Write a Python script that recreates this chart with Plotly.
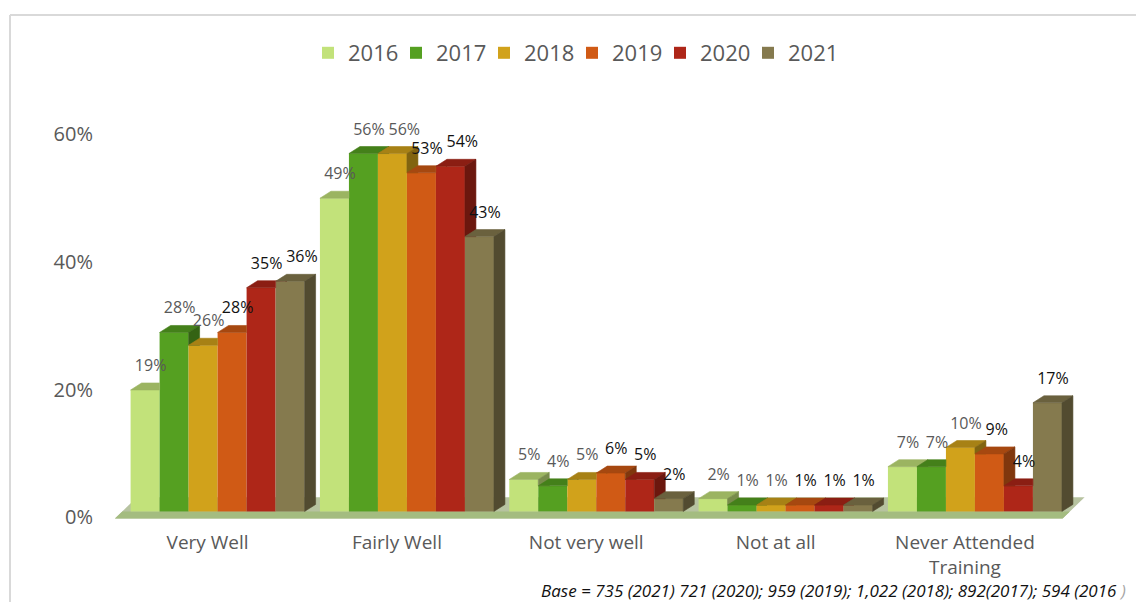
import plotly.graph_objects as go

# ---- data ---------------------------------------------------------------
categories = ["Very Well", "Fairly Well", "Not very well", "Not at all",
              "Never Attended Training"]
category_labels = ["Very Well", "Fairly Well", "Not very well", "Not at all",
                   "Never Attended<br>Training"]
years = ["2016", "2017", "2018", "2019", "2020", "2021"]

values_2016 = [19, 49, 5, 2, 7]
values_2017 = [28, 56, 4, 1, 7]
values_2018 = [26, 56, 5, 1, 10]
values_2019 = [28, 53, 6, 1, 9]
values_2020 = [35, 54, 5, 1, 4]
values_2021 = [36, 43, 2, 1, 17]

y_ticks = [0, 20, 40, 60]
base_note = "Base = 735 (2021) 721 (2020); 959 (2019); 1,022 (2018); 892(2017); 594 (2016 "

series_values = [values_2016, values_2017, values_2018,
                 values_2019, values_2020, values_2021]

# ---- styling ------------------------------------------------------------
FONT = "Open Sans"
AXIS_GREY = "#595959"
bar_colors = ["#c2e27a", "#55a021", "#d1a21b", "#d05a15", "#ae2618", "#857a4e"]
label_colors = ["#595959", "#595959", "#595959", "#111111", "#111111", "#111111"]
TOP_SHADE = 0.80
SIDE_SHADE = 0.62
LABEL_SIZE = 16

W, H = 1136, 602
M_L, M_R, M_T, M_B = 104, 38, 96, 81
X_RANGE = [-0.6, 4.65]
Y_RANGE = [-1.5, 65]
PLOT_W = W - M_L - M_R
PLOT_H = H - M_T - M_B
PX_PER_X = PLOT_W / (X_RANGE[1] - X_RANGE[0])
PX_PER_Y = PLOT_H / (Y_RANGE[1] - Y_RANGE[0])

GROUP_WIDTH = 0.919
BAR_W = GROUP_WIDTH / len(years)
DEPTH_X = 11 / PX_PER_X      # pseudo-3D depth, horizontal part
DEPTH_Y = 7 / PX_PER_Y       # pseudo-3D depth, vertical part
LABEL_DY = 16 / PX_PER_Y


def shade(hex_color, f):
    h = hex_color.lstrip("#")
    r, g, b = (int(h[i:i + 2], 16) for i in (0, 2, 4))
    return "#{:02x}{:02x}{:02x}".format(int(r * f), int(g * f), int(b * f))


def clip_above(poly, c):
    """Keep the part of a convex polygon with y >= c."""
    out = []
    n = len(poly)
    for i in range(n):
        x1, y1 = poly[i]
        x2, y2 = poly[(i + 1) % n]
        in1, in2 = y1 >= c, y2 >= c
        if in1:
            out.append((x1, y1))
        if in1 != in2:
            t = (c - y1) / (y2 - y1)
            out.append((x1 + t * (x2 - x1), c))
    return out


def paper_x(px):
    return (px - M_L) / PLOT_W


def paper_y(py):
    return (H - M_B - py) / PLOT_H


fig = go.Figure()

# front faces of the bars
offsets = [-GROUP_WIDTH / 2 + k * BAR_W for k in range(len(years))]
for k, (year, vals) in enumerate(zip(years, series_values)):
    fig.add_trace(go.Bar(
        x=list(range(len(categories))), y=vals, name=year,
        width=BAR_W, offset=offsets[k],
        marker=dict(color=bar_colors[k], line=dict(width=0)),
        hovertext=categories, hoverinfo="text+y",
    ))

# top and side faces, drawn bar by bar so neighbours hide each other correctly
for j in range(len(categories)):
    for k, vals in enumerate(series_values):
        h = vals[j]
        xl = j + offsets[k]
        xr = xl + BAR_W
        hn = series_values[k + 1][j] if k + 1 < len(years) else 0

        # top face, minus the part hidden behind the next bar's front
        if hn <= h:
            top = [(xl, h), (xr, h), (xr + DEPTH_X, h + DEPTH_Y), (xl + DEPTH_X, h + DEPTH_Y)]
        elif hn >= h + DEPTH_Y:
            top = [(xl, h), (xr, h), (xr, h + DEPTH_Y), (xl + DEPTH_X, h + DEPTH_Y)]
        else:
            xc = xr + DEPTH_X * (hn - h) / DEPTH_Y
            top = [(xl, h), (xr, h), (xr, hn), (xc, hn),
                   (xr + DEPTH_X, h + DEPTH_Y), (xl + DEPTH_X, h + DEPTH_Y)]

        side = [(xr, 0), (xr + DEPTH_X, DEPTH_Y), (xr + DEPTH_X, h + DEPTH_Y), (xr, h)]
        if hn > 0:
            side = clip_above(side, hn)

        for poly, f in ((top, TOP_SHADE), (side, SIDE_SHADE)):
            if len(poly) < 3:
                continue
            xs = [p[0] for p in poly] + [poly[0][0]]
            ys = [p[1] for p in poly] + [poly[0][1]]
            c = shade(bar_colors[k], f)
            fig.add_trace(go.Scatter(
                x=xs, y=ys, mode="lines", fill="toself", fillcolor=c,
                line=dict(color=c, width=0.6), hoverinfo="skip", showlegend=False,
            ))

# value labels: centred over each bar's top, nudged right when they would
# run into the previous label of the same group
label_x = [[0.0] * len(categories) for _ in years]
for j in range(len(categories)):
    prev_right, prev_y = None, None
    for k, vals in enumerate(series_values):
        v = vals[j]
        cx = (j + offsets[k] + BAR_W / 2 + DEPTH_X / 2) * PX_PER_X
        cy = v * PX_PER_Y
        half = 0.5 * LABEL_SIZE * (0.57 * len(str(v)) + 0.82)
        if prev_right is not None and abs(cy - prev_y) < 12 and cx - half < prev_right + 4:
            cx = prev_right + 4 + half
        label_x[k][j] = cx / PX_PER_X
        prev_right, prev_y = cx + half, cy

for k, vals in enumerate(series_values):
    fig.add_trace(go.Scatter(
        x=label_x[k],
        y=[v + DEPTH_Y + LABEL_DY for v in vals],
        mode="text", text=[f"{v}%" for v in vals], textposition="middle center",
        textfont=dict(family=FONT, size=LABEL_SIZE, color=label_colors[k]),
        hoverinfo="skip", showlegend=False,
    ))

# floor slab under the bars
fl_left = -0.5 - 8 / PX_PER_X
fl_right = len(categories) - 0.5 - 7 / PX_PER_X
fl_front = -1.1
fl_back = 2.2
fl_shear = 22 / PX_PER_X / (fl_back - fl_front)   # x shift per unit of y


def floor_path(y0, y1):
    pts = [(fl_left + (y0 - fl_front) * fl_shear, y0),
           (fl_right + (y0 - fl_front) * fl_shear, y0),
           (fl_right + (y1 - fl_front) * fl_shear, y1),
           (fl_left + (y1 - fl_front) * fl_shear, y1)]
    return "M " + " L ".join(f"{x},{y}" for x, y in pts) + " Z"


fig.add_shape(type="path", xref="x", yref="y", layer="below",
              path=floor_path(fl_front, fl_back), fillcolor="#b7c3a0", line_width=0)
fig.add_shape(type="path", xref="x", yref="y", layer="below",
              path=floor_path(fl_front, 0), fillcolor="#a4bc80", line_width=0)

# outer frame (left and top edges)
frame = dict(color="#d9d9d9", width=2)
fig.add_shape(type="line", xref="paper", yref="paper",
              x0=paper_x(10), x1=paper_x(10), y0=paper_y(15), y1=paper_y(H + 5), line=frame)
fig.add_shape(type="line", xref="paper", yref="paper",
              x0=paper_x(10), x1=paper_x(W + 5), y0=paper_y(15), y1=paper_y(15), line=frame)

fig.add_annotation(
    xref="paper", yref="paper", x=paper_x(1128), y=paper_y(590),
    xanchor="right", yanchor="middle", showarrow=False,
    text=f"<i>{base_note}<span style='color:#a6a6a6'>)</span></i>",
    font=dict(family=FONT, size=17, color="#111111"),
)

fig.update_layout(
    width=W, height=H,
    margin=dict(l=M_L, r=M_R, t=M_T, b=M_B),
    paper_bgcolor="white", plot_bgcolor="white",
    barmode="overlay",
    font=dict(family=FONT, color=AXIS_GREY),
    showlegend=True,
    legend=dict(orientation="h", x=paper_x(308), xanchor="left",
                y=paper_y(53), yanchor="middle",
                entrywidth=43, entrywidthmode="pixels",
                font=dict(family=FONT, size=22, color=AXIS_GREY),
                traceorder="normal"),
    xaxis=dict(range=X_RANGE, tickmode="array", tickvals=list(range(len(categories))),
               ticktext=category_labels, showgrid=False, zeroline=False, showline=False,
               ticks="", tickfont=dict(family=FONT, size=19, color=AXIS_GREY),
               ticklabelshift=-10, ticklabelstandoff=8, fixedrange=True),
    yaxis=dict(range=Y_RANGE, tickmode="array", tickvals=y_ticks,
               ticktext=[f"{t}%" for t in y_ticks], showgrid=False, zeroline=False,
               showline=False, ticks="", tickfont=dict(family=FONT, size=20, color=AXIS_GREY),
               ticklabelshift=6, ticklabelstandoff=10, fixedrange=True),
)

fig.write_html("out.html")
